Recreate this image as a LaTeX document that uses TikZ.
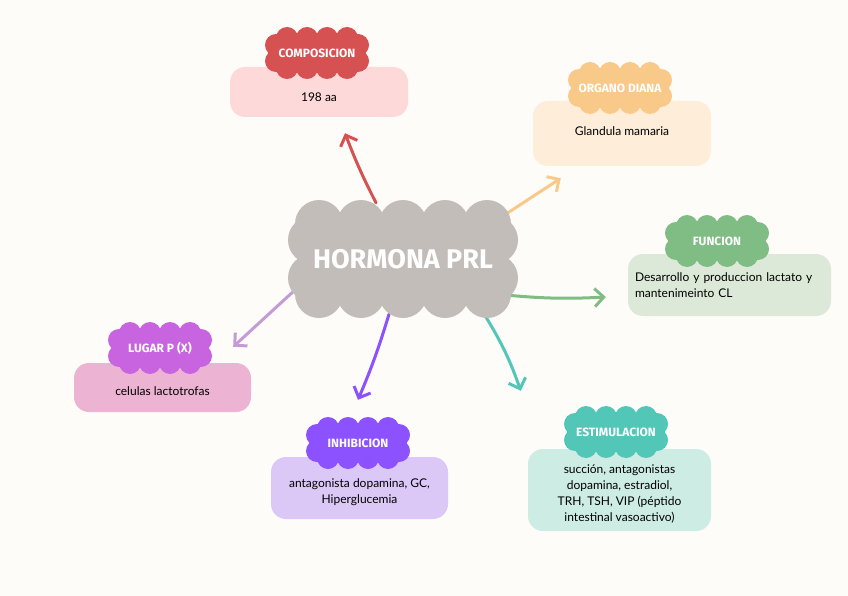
\documentclass[tikz,border=0pt]{standalone}
\usepackage{fontspec}
\setmainfont{Lato}
\newfontfamily\tagfont{Fira Sans}
\usetikzlibrary{arrows.meta,positioning,calc,backgrounds}

\definecolor{paper}{HTML}{FDFCF8}
\definecolor{prlgray}{HTML}{C3BDB9}
\definecolor{compred}{HTML}{D65151}
\definecolor{complight}{HTML}{FDD9DA}
\definecolor{diaorange}{HTML}{F9C98A}
\definecolor{dialight}{HTML}{FDEDD9}
\definecolor{fungreen}{HTML}{80BD85}
\definecolor{funlight}{HTML}{DDE9D8}
\definecolor{lugmagenta}{HTML}{C964E0}
\definecolor{lugpink}{HTML}{EDB3D3}
\definecolor{lugarrow}{HTML}{C49BD6}
\definecolor{inhviolet}{HTML}{8C52FF}
\definecolor{inhlight}{HTML}{DCC8F6}
\definecolor{estteal}{HTML}{52C7B8}
\definecolor{estlight}{HTML}{CCECE4}

% scalloped title tag: #1 name, #2 position, #3 colour, #4 text
\newcommand{\tagcloud}[4]{%
  \foreach \dx in {-30,-10,10,30} {
    \fill[#3] ($#2+(\dx,-15)$) circle (11pt);
    \fill[#3] ($#2+(\dx,15)$) circle (11pt);
  }
  \foreach \dy in {-8,8} {
    \fill[#3] ($#2+(-41,\dy)$) circle (11pt);
    \fill[#3] ($#2+(41,\dy)$) circle (11pt);
  }
  \node[tag, fill=#3] (#1) at #2 {#4};
}

\begin{document}
\begin{tikzpicture}[
  x=1pt, y=-1pt,
  font=\fontsize{12}{16}\selectfont,
  infobox/.style={rounded corners=15pt, align=center, inner sep=0pt},
  tag/.style={rectangle, minimum width=84pt, minimum height=32pt, inner sep=0pt,
              text=white, font=\tagfont\bfseries\fontsize{12}{14}\selectfont},
  arr/.style={-{Straight Barb[length=9pt,width=18pt]}, line width=3pt,
              line cap=round}
]
\begin{scope}[on background layer]
  \useasboundingbox[fill=paper] (0,0) rectangle (848,596);
\end{scope}

% boxes
\node[infobox, fill=complight, minimum width=178pt, minimum height=50pt] (compbox) at (319,92)
  {\raisebox{-5pt}[\height][\depth]{198 aa}};
\node[infobox, fill=dialight, minimum width=178pt, minimum height=65pt] (diabox) at (622,133.5)
  {\raisebox{2pt}[\height][\depth]{Glandula mamaria}};
\node[infobox, fill=funlight, minimum height=62pt, text width=189pt, align=left,
      inner xsep=7pt] (funbox) at (729.5,285) {Desarrollo y produccion lactato y\\ mantenimeinto CL};
\node[infobox, fill=lugpink, minimum width=177pt, minimum height=49pt] (lugbox) at (162.5,387.5)
  {\raisebox{-4pt}[\height][\depth]{celulas lactotrofas}};
\node[infobox, fill=inhlight, minimum width=177pt, minimum height=62pt] (inhbox) at (359.5,488)
  {\raisebox{-4pt}[\height][\depth]{\begin{tabular}{@{}c@{}}antagonista dopamina, GC,\\ Hiperglucemia\end{tabular}}};
\node[infobox, fill=estlight, minimum width=183pt, minimum height=82pt] (estbox) at (619.5,490)
  {\raisebox{-4pt}[\height][\depth]{\begin{tabular}{@{}c@{}}succión, antagonistas\\ dopamina, estradiol,\\ TRH, TSH, VIP (péptido\\ intestinal vasoactivo)\end{tabular}}};

% title tags
\tagcloud{comptag}{(317,53)}{compred}{COMPOSICION}
\tagcloud{diatag}{(620,88)}{diaorange}{ORGANO DIANA}
\tagcloud{funtag}{(717,241)}{fungreen}{FUNCION}
\tagcloud{lugtag}{(160,348)}{lugmagenta}{LUGAR P (X)}
\tagcloud{inhtag}{(358,443)}{inhviolet}{INHIBICION}
\tagcloud{esttag}{(616,432)}{estteal}{ESTIMULACION}

% centre cloud
\node[minimum width=230pt, minimum height=118pt] (prl) at (403,259) {};
\fill[prlgray] ($(prl.center)+(-93,-37)$) rectangle ($(prl.center)+(93,37)$);
\foreach \dx in {-84,-42,0,42,84} {
  \fill[prlgray] ($(prl.center)+(\dx,-35)$) circle (24pt);
  \fill[prlgray] ($(prl.center)+(\dx,35)$) circle (24pt);
}
\foreach \dy in {-19,19} {
  \fill[prlgray] ($(prl.center)+(-91,\dy)$) circle (24pt);
  \fill[prlgray] ($(prl.center)+(91,\dy)$) circle (24pt);
}
\node[text=white, font=\tagfont\bfseries\fontsize{27}{30}\selectfont] (prltext) at (prl.center) {HORMONA PRL};

% connectors
\begin{scope}[on background layer]
\draw[arr, compred] ($(prl.north)+(-27,3)$) to[bend left=3] ($(compbox.south)+(26,16)$);
\draw[arr, diaorange] ($(prl.north east)+(-21,20)$) -- ($(diabox.south west)+(28,12)$);
\draw[arr, fungreen] ($(prl.south east)+(-11,-23)$) to[bend right=4] ($(funbox.west)+(-22,12)$);
\draw[arr, lugarrow] ($(prl.south west)+(8,-29)$) -- ($(lugbox.north east)+(-18,-16)$);
\draw[arr, inhviolet] ($(prl.south)+(-14,-4)$) to[bend left=3] ($(inhtag.north)+(0,-27)$);
\draw[arr, estteal] ($(prl.south east)+(-34,-4)$) to[bend left=6] ($(estbox.north west)+(-7,-58)$);
\end{scope}
\end{tikzpicture}
\end{document}
